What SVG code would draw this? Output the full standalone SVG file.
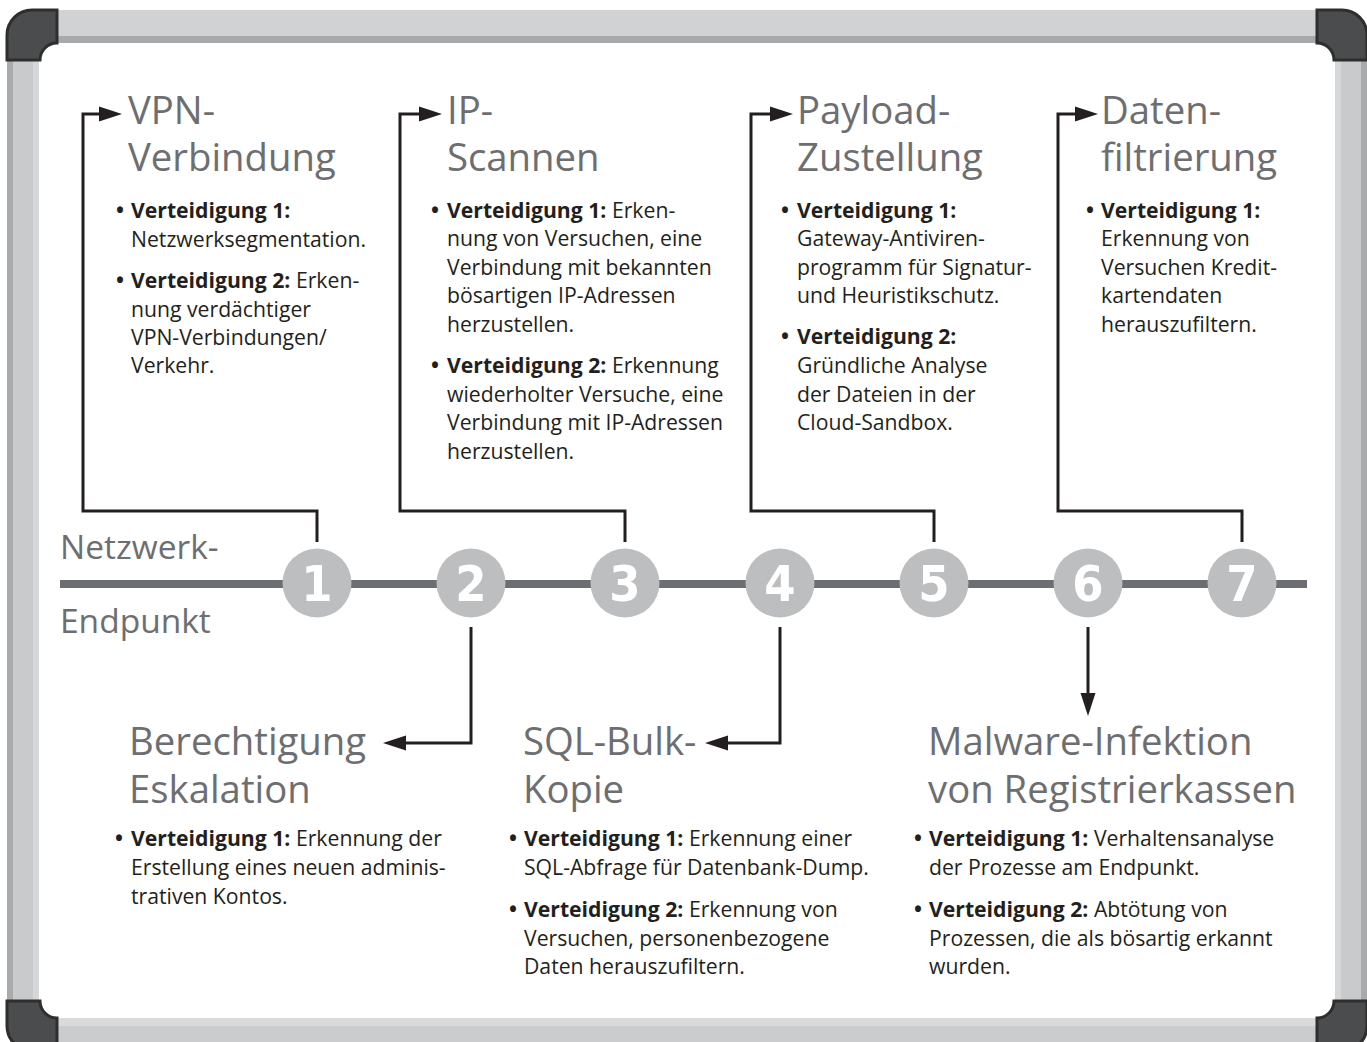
<svg xmlns="http://www.w3.org/2000/svg" width="1367" height="1042" viewBox="0 0 1367 1042">
  <defs>
    <style>
      .title { font-family: "Open Sans", "Noto Sans", sans-serif; font-size: 38.3px; fill: #6d6e71; }
      .side { font-family: "Open Sans", "Noto Sans", sans-serif; font-size: 33.5px; fill: #6d6e71; }
      .body { font-family: "Open Sans", "Noto Sans", sans-serif; font-size: 21.2px; fill: #231f20; }
      .b { font-weight: 700; }
      .num { font-family: "DejaVu Sans Condensed", "DejaVu Sans", sans-serif; font-weight: 700; font-size: 50px; fill: #ffffff; text-anchor: middle; }
      .dot { fill: #bcbec0; }
      .wire { fill: none; stroke: #231f20; stroke-width: 3; stroke-linejoin: miter; }
      .corner { fill: #4b4c4d; stroke: #2e2e2e; stroke-width: 3; }
    </style>
    <marker id="arrow" markerUnits="userSpaceOnUse" viewBox="0 -8 24 16" refX="0" refY="0" markerWidth="24" markerHeight="16" orient="auto">
      <path d="M0,-7.5 L23,0 L0,7.5 Z" fill="#231f20"/>
    </marker>
    <path id="corner-shape" d="M7,60 V35 A25,25 0 0 1 32,10 H57 V43 A17,17 0 0 0 40,60 Z"/>
  </defs>

  <!-- whiteboard frame -->
  <g id="frame">
    <rect x="0" y="0" width="1367" height="1042" fill="#ffffff"/>
    <rect x="39" y="43" width="1296" height="975" fill="#ffffff"/>
    <!-- top rail -->
    <rect x="30" y="10" width="1307" height="26" fill="#d1d2d3"/>
    <rect x="30" y="36" width="1307" height="7" fill="#a8a9ab"/>
    <!-- bottom rail -->
    <rect x="30" y="1018" width="1307" height="8" fill="#d9dadb"/>
    <rect x="30" y="1026" width="1307" height="16" fill="#cbcccd"/>
    <!-- left rail -->
    <rect x="7" y="40" width="6" height="980" fill="#a9aaac"/>
    <rect x="13" y="40" width="20" height="980" fill="#c9cacb"/>
    <rect x="33" y="40" width="6" height="980" fill="#d6d7d8"/>
    <!-- right rail -->
    <rect x="1335" y="40" width="6" height="980" fill="#d6d7d8"/>
    <rect x="1341" y="40" width="20" height="980" fill="#c9cacb"/>
    <rect x="1361" y="40" width="6" height="980" fill="#a9aaac"/>
    <!-- corner caps -->
    <use href="#corner-shape" class="corner"/>
    <use href="#corner-shape" class="corner" transform="translate(1374,0) scale(-1,1)"/>
    <use href="#corner-shape" class="corner" transform="translate(0,1061) scale(1,-1)"/>
    <use href="#corner-shape" class="corner" transform="translate(1374,1061) scale(-1,-1)"/>
  </g>

  <!-- timeline -->
  <g id="timeline">
    <rect x="60" y="580" width="1247" height="8" fill="#6d6e71"/>
    <text class="side" x="60" y="559">Netzwerk-</text>
    <text class="side" x="60" y="633">Endpunkt</text>
  </g>

  <!-- connectors -->
  <g id="connectors">
    <path class="wire" d="M317,542 V511 H83 V114 H99" marker-end="url(#arrow)"/>
    <path class="wire" d="M625,542 V511 H400 V114 H419" marker-end="url(#arrow)"/>
    <path class="wire" d="M934,542 V511 H751 V114 H770" marker-end="url(#arrow)"/>
    <path class="wire" d="M1242,542 V511 H1058 V114 H1075" marker-end="url(#arrow)"/>
    <path class="wire" d="M471,627 V743 H406" marker-end="url(#arrow)"/>
    <path class="wire" d="M780,627 V743 H728" marker-end="url(#arrow)"/>
    <path class="wire" d="M1088,627 V693" marker-end="url(#arrow)"/>
  </g>

  <!-- numbered steps -->
  <g id="step-1"><circle class="dot" cx="317" cy="583" r="34.5"/><text class="num" x="317" y="601">1</text></g>
  <g id="step-2"><circle class="dot" cx="471" cy="583" r="34.5"/><text class="num" x="471" y="601">2</text></g>
  <g id="step-3"><circle class="dot" cx="625" cy="583" r="34.5"/><text class="num" x="625" y="601">3</text></g>
  <g id="step-4"><circle class="dot" cx="780" cy="583" r="34.5"/><text class="num" x="780" y="601">4</text></g>
  <g id="step-5"><circle class="dot" cx="934" cy="583" r="34.5"/><text class="num" x="934" y="601">5</text></g>
  <g id="step-6"><circle class="dot" cx="1088" cy="583" r="34.5"/><text class="num" x="1088" y="601">6</text></g>
  <g id="step-7"><circle class="dot" cx="1242" cy="583" r="34.5"/><text class="num" x="1242" y="601">7</text></g>

  <!-- stage 1 -->
  <g id="stage-vpn">
    <text class="title" x="128" y="124">VPN-</text>
    <text class="title" x="128" y="171">Verbindung</text>
    <text class="body b" x="116" y="218">•</text>
    <text class="body" x="131" y="218"><tspan class="b">Verteidigung 1:</tspan></text>
    <text class="body" x="131" y="247">Netzwerksegmentation.</text>
    <text class="body b" x="116" y="288">•</text>
    <text class="body" x="131" y="288"><tspan class="b">Verteidigung 2:</tspan> Erken-</text>
    <text class="body" x="131" y="317">nung verdächtiger</text>
    <text class="body" x="131" y="345">VPN-Verbindungen/</text>
    <text class="body" x="131" y="373">Verkehr.</text>
  </g>

  <!-- stage 2 -->
  <g id="stage-escalation">
    <text class="title" x="129" y="755">Berechtigung</text>
    <text class="title" x="129" y="803">Eskalation</text>
    <text class="body b" x="115" y="846">•</text>
    <text class="body" x="131" y="846"><tspan class="b">Verteidigung 1:</tspan> Erkennung der</text>
    <text class="body" x="131" y="875">Erstellung eines neuen adminis-</text>
    <text class="body" x="131" y="904">trativen Kontos.</text>
  </g>

  <!-- stage 3 -->
  <g id="stage-ipscan">
    <text class="title" x="447" y="124">IP-</text>
    <text class="title" x="447" y="171">Scannen</text>
    <text class="body b" x="431" y="218">•</text>
    <text class="body" x="447" y="218"><tspan class="b">Verteidigung 1:</tspan> Erken-</text>
    <text class="body" x="447" y="246">nung von Versuchen, eine</text>
    <text class="body" x="447" y="275">Verbindung mit bekannten</text>
    <text class="body" x="447" y="303">bösartigen IP-Adressen</text>
    <text class="body" x="447" y="332">herzustellen.</text>
    <text class="body b" x="431" y="373">•</text>
    <text class="body" x="447" y="373"><tspan class="b">Verteidigung 2:</tspan> Erkennung</text>
    <text class="body" x="447" y="402">wiederholter Versuche, eine</text>
    <text class="body" x="447" y="430">Verbindung mit IP-Adressen</text>
    <text class="body" x="447" y="459">herzustellen.</text>
  </g>

  <!-- stage 4 -->
  <g id="stage-sqlbulk">
    <text class="title" x="523" y="755">SQL-Bulk-</text>
    <text class="title" x="523" y="803">Kopie</text>
    <text class="body b" x="509" y="846">•</text>
    <text class="body" x="524" y="846"><tspan class="b">Verteidigung 1:</tspan> Erkennung einer</text>
    <text class="body" x="524" y="875">SQL-Abfrage für Datenbank-Dump.</text>
    <text class="body b" x="509" y="917">•</text>
    <text class="body" x="524" y="917"><tspan class="b">Verteidigung 2:</tspan> Erkennung von</text>
    <text class="body" x="524" y="946">Versuchen, personenbezogene</text>
    <text class="body" x="524" y="974">Daten herauszufiltern.</text>
  </g>

  <!-- stage 5 -->
  <g id="stage-payload">
    <text class="title" x="797" y="124">Payload-</text>
    <text class="title" x="797" y="171">Zustellung</text>
    <text class="body b" x="781" y="218">•</text>
    <text class="body" x="797" y="218"><tspan class="b">Verteidigung 1:</tspan></text>
    <text class="body" x="797" y="246">Gateway-Antiviren-</text>
    <text class="body" x="797" y="275">programm für Signatur-</text>
    <text class="body" x="797" y="303">und Heuristikschutz.</text>
    <text class="body b" x="781" y="344">•</text>
    <text class="body" x="797" y="344"><tspan class="b">Verteidigung 2:</tspan></text>
    <text class="body" x="797" y="373">Gründliche Analyse</text>
    <text class="body" x="797" y="402">der Dateien in der</text>
    <text class="body" x="797" y="430">Cloud-Sandbox.</text>
  </g>

  <!-- stage 6 -->
  <g id="stage-malware">
    <text class="title" x="928" y="755">Malware-Infektion</text>
    <text class="title" x="928" y="803">von Registrierkassen</text>
    <text class="body b" x="914" y="846">•</text>
    <text class="body" x="929" y="846"><tspan class="b">Verteidigung 1:</tspan> Verhaltensanalyse</text>
    <text class="body" x="929" y="875">der Prozesse am Endpunkt.</text>
    <text class="body b" x="914" y="917">•</text>
    <text class="body" x="929" y="917"><tspan class="b">Verteidigung 2:</tspan> Abtötung von</text>
    <text class="body" x="929" y="946">Prozessen, die als bösartig erkannt</text>
    <text class="body" x="929" y="974">wurden.</text>
  </g>

  <!-- stage 7 -->
  <g id="stage-exfil">
    <text class="title" x="1101" y="124">Daten-</text>
    <text class="title" x="1101" y="171">filtrierung</text>
    <text class="body b" x="1086" y="218">•</text>
    <text class="body" x="1101" y="218"><tspan class="b">Verteidigung 1:</tspan></text>
    <text class="body" x="1101" y="246">Erkennung von</text>
    <text class="body" x="1101" y="275">Versuchen Kredit-</text>
    <text class="body" x="1101" y="303">kartendaten</text>
    <text class="body" x="1101" y="332">herauszufiltern.</text>
  </g>
</svg>
